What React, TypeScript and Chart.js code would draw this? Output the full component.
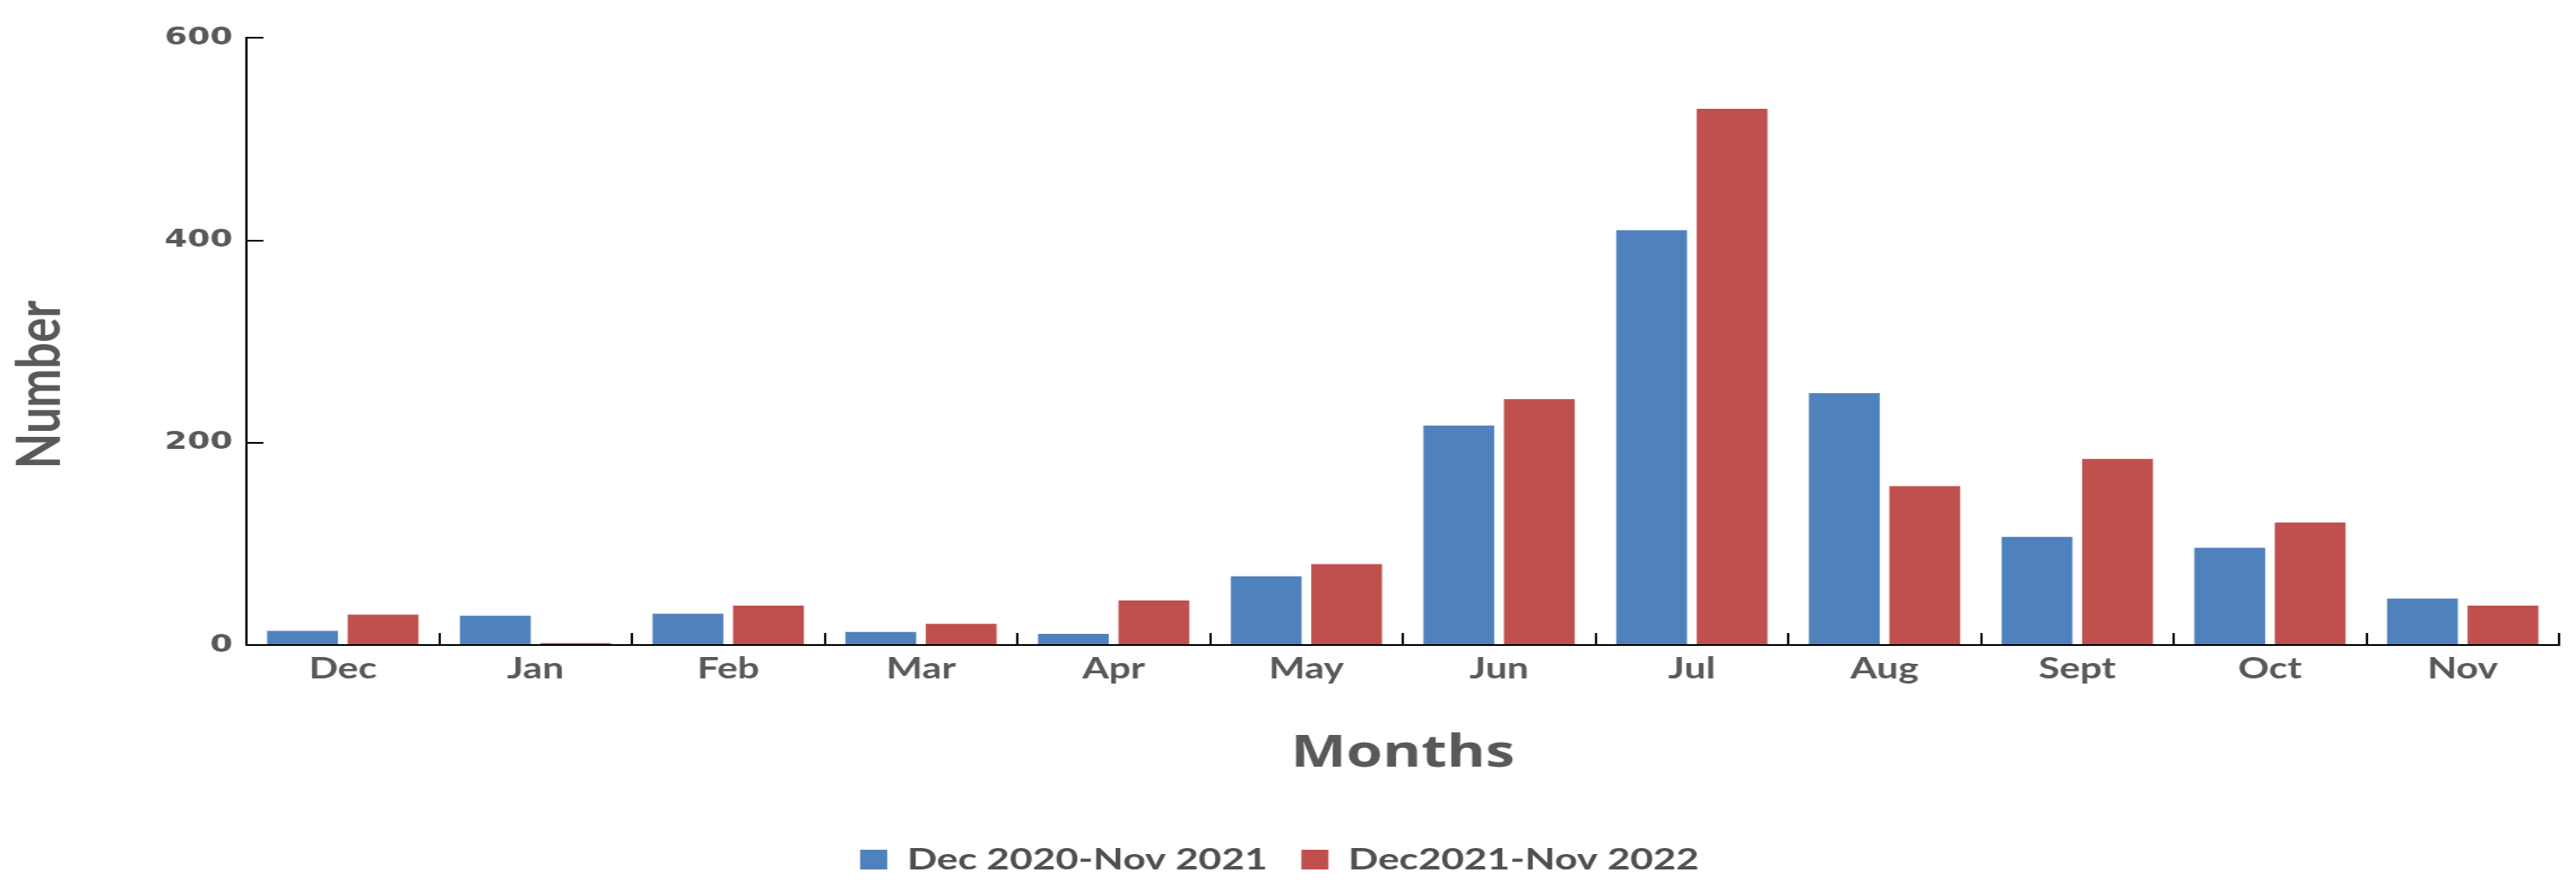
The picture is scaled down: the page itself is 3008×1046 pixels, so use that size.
import React, { useEffect, useRef } from "react";
import { Chart, registerables } from "chart.js";

Chart.register(...registerables);

const months = ["Dec", "Jan", "Feb", "Mar", "Apr", "May", "Jun", "Jul", "Aug", "Sept", "Oct", "Nov"];
const series1Label = "Dec 2020-Nov 2021";
const series2Label = "Dec2021-Nov 2022";
const series1Values = [14, 29, 31, 13, 11, 68, 217, 410, 249, 107, 96, 46];
const series2Values = [30, 2, 39, 21, 44, 80, 243, 530, 157, 184, 121, 39];
const yTicks = [0, 200, 400, 600];
const xTitle = "Months";
const yTitle = "Number";

const BLUE = "#4F81BD";
const RED = "#C0504D";
const TEXT = "#595959";

// The original figure is stretched horizontally; draw at a narrower logical width and stretch via CSS.
const PAGE_W = 3008;
const PAGE_H = 1046;
const STRETCH = 1.32;
const CANVAS_W = Math.round(PAGE_W / STRETCH);
const CANVAS_H = PAGE_H;

const yTitlePlugin = {
  id: "yTitleCustom",
  afterDraw(chart: any) {
    const ctx = chart.ctx;
    ctx.save();
    ctx.translate(36, 449);
    ctx.rotate(-Math.PI / 2);
    ctx.font = "bold 54px Lato";
    ctx.fillStyle = TEXT;
    ctx.textAlign = "center";
    ctx.textBaseline = "middle";
    ctx.fillText(yTitle, 0, 0);
    ctx.restore();
  },
};

export default function App() {
  const ref = useRef<HTMLCanvasElement | null>(null);

  useEffect(() => {
    if (!ref.current) return;
    const chart = new Chart(ref.current, {
      type: "bar",
      data: {
        labels: months,
        datasets: [
          { label: series1Label, data: series1Values, backgroundColor: BLUE, borderWidth: 0 },
          { label: series2Label, data: series2Values, backgroundColor: RED, borderWidth: 0 },
        ],
      },
      options: {
        responsive: false,
        animation: false,
        devicePixelRatio: 1,
        categoryPercentage: 0.835,
        barPercentage: 0.88,
        layout: { padding: { left: 0, right: 15, top: 42, bottom: 15 } },
        plugins: {
          legend: {
            position: "bottom",
            labels: {
              font: { family: "Lato", weight: "bold", size: 35 },
              color: "#505050",
              boxWidth: 24,
              boxHeight: 23,
              padding: 30,
            },
          },
          tooltip: { enabled: false },
        },
        scales: {
          x: {
            grid: {
              display: true,
              drawOnChartArea: false,
              drawTicks: true,
              tickLength: -14,
              color: "#000",
              lineWidth: 2,
              offset: true,
            },
            border: { display: true, color: "#000", width: 2 },
            ticks: {
              font: { family: "Lato", weight: "bold", size: 34 },
              color: TEXT,
              padding: 22,
            },
            title: {
              display: true,
              text: xTitle,
              font: { family: "Open Sans", weight: "bold", size: 52 },
              color: TEXT,
              padding: { top: 0, bottom: 45 },
            },
            afterFit: (s: any) => {
              s.height = 203;
            },
          },
          y: {
            min: 0,
            max: 600,
            afterBuildTicks: (s: any) => {
              s.ticks = yTicks.map((v) => ({ value: v }));
            },
            ticks: {
              font: { family: "DejaVu Sans", weight: "bold", size: 29 },
              color: TEXT,
              padding: 27,
            },
            grid: {
              drawOnChartArea: false,
              drawTicks: true,
              tickLength: -15,
              color: "#000",
              lineWidth: 2,
            },
            border: { display: true, color: "#000", width: 2 },
            afterFit: (s: any) => {
              s.width = 218;
            },
          },
        },
      } as any,
      plugins: [yTitlePlugin],
    });
    return () => chart.destroy();
  }, []);

  return (
    <div style={{ position: "absolute", left: 0, top: 0, width: PAGE_W, height: PAGE_H, background: "#fff" }}>
      <canvas
        ref={ref}
        width={CANVAS_W}
        height={CANVAS_H}
        style={{ width: PAGE_W + "px", height: PAGE_H + "px", display: "block" }}
      />
    </div>
  );
}
